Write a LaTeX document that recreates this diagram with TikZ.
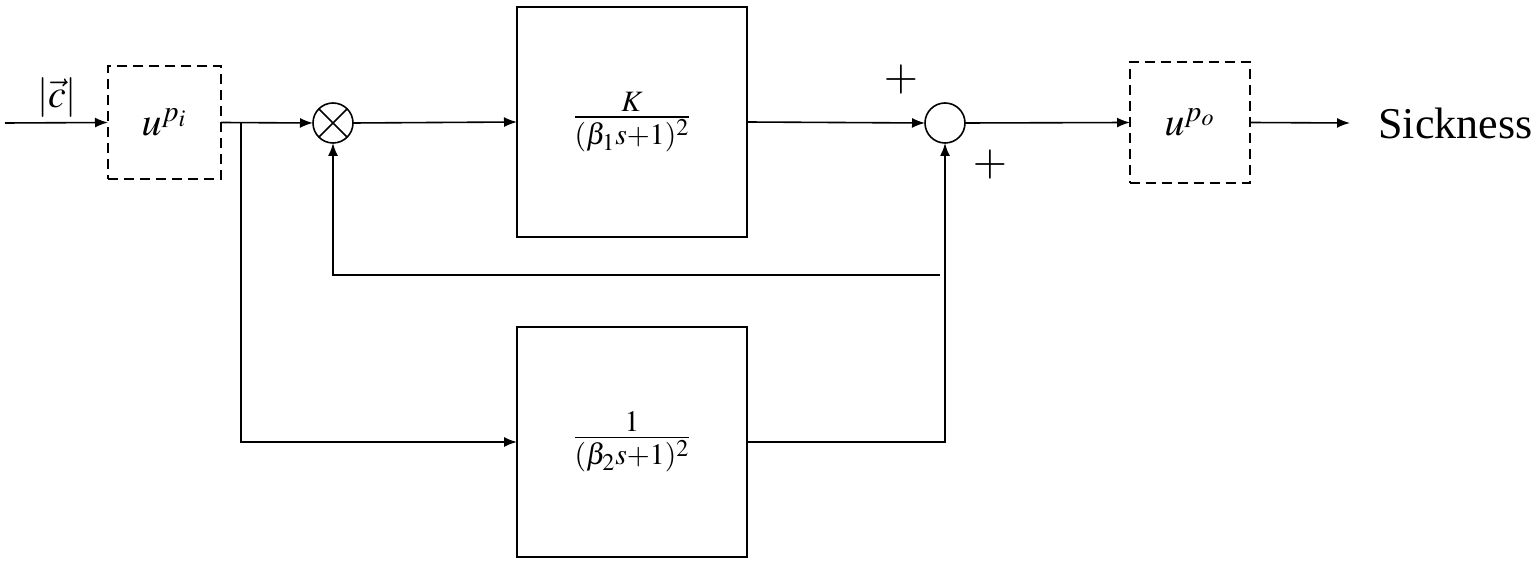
\documentclass[tikz,border=0pt]{standalone}
\usepackage{mathptmx}
\usepackage{fontspec}
\setmainfont{Liberation Serif}
\usetikzlibrary{arrows.meta}
\tikzset{
  conn/.style={line width=0.8pt},
  arr/.style={conn,-{Latex[length=6.5pt,width=5pt]}},
  dbox/.style={draw,line width=0.75pt,dash pattern=on 5pt off 3pt,inner sep=0pt,outer sep=0pt},
  tbox/.style={draw,line width=0.8pt,inner sep=0pt,outer sep=0pt,minimum width=115pt,minimum height=115pt},
  junc/.style={draw,circle,line width=0.8pt,inner sep=0pt,outer sep=0pt,minimum size=20pt},
  lbl/.style={inner sep=0pt}
}
\begin{document}
\begin{tikzpicture}[x=0.5pt,y=-0.5pt,font=\fontsize{20}{24}\selectfont]
\useasboundingbox (0,0) rectangle (1535,566);
\node[dbox,minimum width=56.5pt,minimum height=56.5pt] (pi) at (164.5,122.5) {$u^{p_i}$};
\node[junc] (mul) at (333,123) {};
\draw[conn] (mul.north west) -- (mul.south east) (mul.north east) -- (mul.south west);
\node[tbox] (g1) at (632,122) {$\frac{K}{(\beta_1 s+1)^2}$};
\node[tbox] (g2) at (632,442) {$\frac{1}{(\beta_2 s+1)^2}$};
\node[junc] (sum) at (945,123) {};
\node[dbox,minimum width=60pt,minimum height=60.5pt] (po) at (1190,122.5) {$u^{p_o}$};
\node[anchor=west,inner xsep=14pt,inner ysep=0pt,font=\fontsize{22}{26}\selectfont] (out) at (1350,123) {Sickness};
\node[lbl] (cl) at (57,98) {$|\vec{c}|$};
\node[lbl,font=\fontsize{22}{26}\selectfont] (p1) at (901,80) {$+$};
\node[lbl,font=\fontsize{22}{26}\selectfont] (p2) at (990,165) {$+$};
\coordinate (in) at (5,123);
\coordinate (br) at (241,123);
\coordinate (fb) at (940,275);
\draw[arr] (in) -- (pi.west);
\draw[arr] (pi.east) -- (mul.west);
\draw[arr] (br) |- (g2.west);
\draw[arr] (mul.east) -- (g1.west);
\draw[arr] (g1.east) -- (sum.west);
\draw[arr] (g2.east) -| (sum.south);
\draw[arr] (fb) -| (mul.south);
\draw[arr] (sum.east) -- (po.west);
\draw[arr] (po.east) -- (out.west);
\end{tikzpicture}
\end{document}
